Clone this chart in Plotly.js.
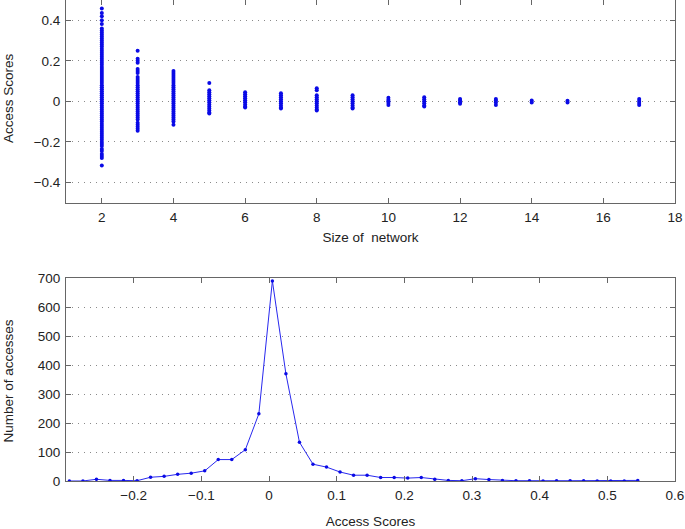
<!DOCTYPE html>
<html><head><meta charset="utf-8">
<script src="https://cdn.plot.ly/plotly-3.0.1.min.js"></script>
<style>html,body{margin:0;padding:0;background:#fff}#c{width:685px;height:529px}</style>
</head><body><div id="c"></div>
<script>
// Top panel: access score of each member, grouped by size of network
var s2 = [0.458,0.436,0.42,0.40,0.381,0.36,0.35,0.34,0.33,0.32,0.31,0.30,0.29,0.28,0.27,0.26,0.25,0.24,0.23,0.22,0.21,0.20,0.19,0.18,0.17,0.16,0.15,0.14,0.13,0.12,0.11,0.10,0.09,0.08,0.07,0.06,0.05,0.04,0.03,0.02,0.01,0.0,-0.01,-0.02,-0.03,-0.04,-0.05,-0.06,-0.07,-0.08,-0.09,-0.10,-0.11,-0.12,-0.13,-0.14,-0.15,-0.16,-0.17,-0.18,-0.19,-0.20,-0.21,-0.22,-0.235,-0.245,-0.26,-0.27,-0.28,-0.317];
var s3 = [0.25,0.21,0.20,0.19,0.16,0.15,0.14,0.12,0.11,0.10,0.09,0.08,0.07,0.06,0.05,0.04,0.03,0.02,0.01,0.0,-0.01,-0.02,-0.03,-0.04,-0.05,-0.06,-0.07,-0.08,-0.09,-0.105,-0.115,-0.125,-0.135,-0.145];
var s4 = [0.15,0.14,0.13,0.12,0.11,0.10,0.09,0.08,0.07,0.06,0.05,0.04,0.03,0.02,0.01,0.0,-0.01,-0.02,-0.03,-0.04,-0.05,-0.06,-0.07,-0.08,-0.09,-0.10,-0.115];
var s5 = [0.09,0.055,0.045,0.035,0.025,0.015,0.005,-0.005,-0.015,-0.025,-0.035,-0.045,-0.055,-0.06];
var s6 = [0.045,0.035,0.025,0.015,0.005,-0.005,-0.015,-0.025,-0.03];
var s7 = [0.04,0.03,0.02,0.01,0.0,-0.01,-0.02,-0.03,-0.035];
var s8 = [0.065,0.055,0.03,0.02,0.01,0.0,-0.01,-0.02,-0.03,-0.04,-0.045];
var s9 = [0.03,0.02,0.01,0.0,-0.01,-0.02,-0.03,-0.035];
var s10 = [0.018,0.008,0.0,-0.008,-0.018];
var s11 = [0.02,0.01,0.0,-0.01,-0.02,-0.025];
var s12 = [0.012,0.004,-0.004,-0.012];
var s13 = [0.012,0.004,-0.006,-0.018];
var s14 = [0.004,-0.006];
var s15 = [0.003,-0.006];
var s17 = [0.012,0.002,-0.008,-0.018];
var networkSizes = [2,3,4,5,6,7,8,9,10,11,12,13,14,15,17];
var scoreLists = [s2,s3,s4,s5,s6,s7,s8,s9,s10,s11,s12,s13,s14,s15,s17];

// Bottom panel: histogram of access scores
var binCenters = [-0.295,-0.275,-0.255,-0.235,-0.215,-0.195,-0.175,-0.155,-0.135,-0.115,-0.095,-0.075,-0.055,-0.035,-0.015,0.005,0.025,0.045,0.065,0.085,0.105,0.125,0.145,0.165,0.185,0.205,0.225,0.245,0.265,0.285,0.305,0.325,0.345,0.365,0.385,0.405,0.425,0.445,0.465,0.485,0.505,0.525,0.545];
var counts = [0,0,6,2,2,1,13,16,23,27,35,74,74,108,232,691,370,134,58,48,31,20,20,12,12,10,12,6,2,1,8,5,2,1,1,0,1,1,1,0,0,0,2];

var topTicks = [2,4,6,8,10,12,14,16,18];
var topYTicks = [-0.4,-0.2,0,0.2,0.4];
var botXTicks = [-0.2,-0.1,0,0.1,0.2,0.3,0.4,0.5,0.6];
var botYTicks = [0,100,200,300,400,500,600,700];

var sx = [], sy = [];
networkSizes.forEach(function(n,i){ scoreLists[i].forEach(function(v){ sx.push(n); sy.push(v); }); });

var blue = '#0a0ae6';
var traces = [
  {type:'scatter', mode:'markers', x:sx, y:sy, xaxis:'x', yaxis:'y',
   marker:{color:blue, size:4}, hoverinfo:'x+y'},
  {type:'scatter', mode:'lines+markers', x:binCenters, y:counts, xaxis:'x2', yaxis:'y2',
   line:{color:'#2828ee', width:1}, marker:{color:'#0a0ae6', size:3.5}}
];

var fnt = {family:'Liberation Sans, Arial, sans-serif', size:13.5, color:'#222'};
function ax(extra){
  var a = {showline:true, linecolor:'#666', linewidth:1, mirror:'ticks', ticks:'inside', ticklen:5,
           tickcolor:'#666', tickfont:fnt, zeroline:false, showgrid:false, ticklabelstandoff:2};
  for (var k in extra) a[k] = extra[k];
  return a;
}
var grid = {showgrid:true, gridcolor:'#8a8a8a', griddash:'1px,5px', gridwidth:1};
function merge(a,b){ for (var k in b) a[k]=b[k]; return a; }
var layout = {
  width:685, height:529, showlegend:false,
  paper_bgcolor:'#fff', plot_bgcolor:'#fff',
  margin:{l:66, r:10, t:0, b:48},
  font:fnt,
  xaxis: ax({domain:[0,1], anchor:'y', range:[1,18], tickvals:topTicks,
            title:{text:'Size of  network', font:fnt, standoff:8}}),
  yaxis: ax(merge({domain:[0.5786,1], anchor:'x', range:[-0.5,0.5], tickvals:topYTicks,
            ticktext:['\u22120.4','\u22120.2','0','0.2','0.4']}, grid)),
  xaxis2: ax({domain:[0,1], anchor:'y2', range:[-0.3,0.6], tickvals:botXTicks,
            ticktext:['\u22120.2','\u22120.1','0','0.1','0.2','0.3','0.4','0.5','0.6'],
            title:{text:'Access Scores', font:fnt, standoff:24}}),
  yaxis2: ax(merge({domain:[0,0.4214], anchor:'x2', range:[0,700], tickvals:botYTicks}, grid)),
  annotations: [
    {text:'Access Scores', xref:'paper', yref:'paper', x:-0.0944, y:0.795,
     xanchor:'center', yanchor:'middle', textangle:-90, showarrow:false, font:fnt},
    {text:'Number of accesses', xref:'paper', yref:'paper', x:-0.0944, y:0.208,
     xanchor:'center', yanchor:'middle', textangle:-90, showarrow:false, font:fnt}
  ]
};
Plotly.newPlot('c', traces, layout, {displayModeBar:false, staticPlot:true});
</script></body></html>
